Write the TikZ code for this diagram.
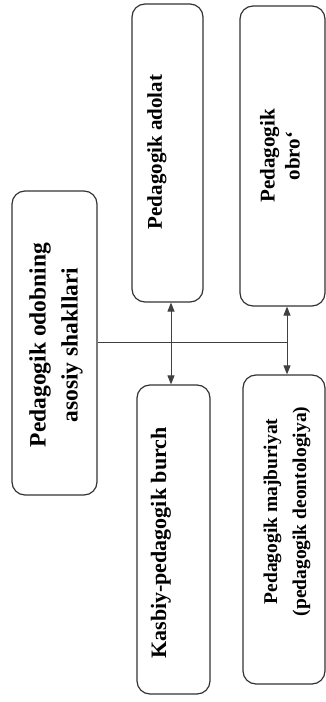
\documentclass[tikz,border=0pt]{standalone}
\usepackage{fontspec}
\setmainfont{Liberation Serif}
\usetikzlibrary{arrows.meta}

\begin{document}
\begin{tikzpicture}[x=1pt, y=1pt,
		box/.style={draw=black!80, line width=1.2pt, rounded corners=13pt, rotate=90, inner sep=0pt},
		txt/.style={rotate=90, align=center, inner sep=0pt},
		link/.style={draw=black!75, line width=1pt},
		>={Triangle[length=9pt,width=7pt]}]
		\useasboundingbox (0,0) rectangle (326,702);

		% boxes (rotated, text reads upwards)
		\node (main) [box, minimum width=304pt, minimum height=85pt] at (54.5,359) {};
		\node (adolat) [box, minimum width=298pt, minimum height=71pt] at (167.5,549) {};
		\node (obro) [box, minimum width=300pt, minimum height=85pt] at (282.5,546) {};
		\node (burch) [box, minimum width=309pt, minimum height=73pt] at (173.5,162.5) {};
		\node (majb) [box, minimum width=309pt, minimum height=82pt] at (284,172.5) {};

		% texts
		\node (main-t) [txt, font=\fontsize{23.5}{32}\selectfont\bfseries] at (56,357) {Pedagogik odobning\\asosiy shakllari};
		\node (adolat-t) [txt, font=\fontsize{21}{26}\selectfont\bfseries] at (157,550) {Pedagogik adolat};
		\node (obro-t) [txt, font=\fontsize{21}{25}\selectfont\bfseries] at (280,546) {Pedagogik\\obro‘};
		\node (burch-t) [txt, font=\fontsize{22}{26}\selectfont\bfseries] at (161,159) {Kasbiy-pedagogik burch};
		\node (majb-t) [txt, font=\fontsize{19.5}{29}\selectfont\bfseries] at (287,190.5) {Pedagogik majburiyat\\(pedagogik deontologiya)};

		% connectors
		\coordinate (a1) at (171,0);
		\coordinate (a2) at (287,0);
		\draw[link] (main.south) -- (main.south -| a2);
		\draw[link, <->] (adolat.west -| a1) -- (burch.east -| a1);
		\draw[link, <->] (obro.west -| a2) -- (majb.east -| a2);
\end{tikzpicture}
\end{document}
